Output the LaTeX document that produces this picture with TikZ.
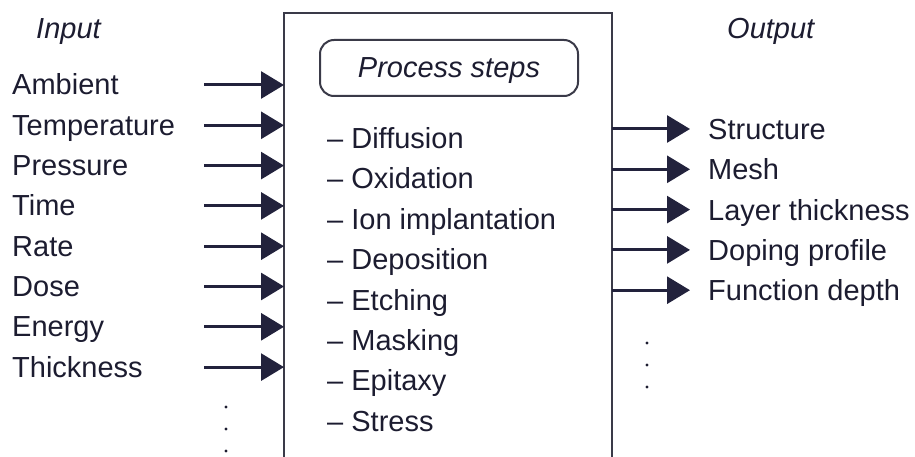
\documentclass[tikz,border=0pt]{standalone}
\usepackage{fontspec}
\setmainfont{Liberation Sans}
\usetikzlibrary{arrows.meta}
\definecolor{ink}{HTML}{1C1C30}
\definecolor{arr}{HTML}{22223C}
\definecolor{boxc}{HTML}{3A3A48}
\tikzset{
  lbl/.style={anchor=west,inner sep=0pt,text=ink,font=\fontsize{29}{34}\selectfont,text height=20.8pt,text depth=0pt},
  ttl/.style={inner sep=0pt,text=ink,font=\fontsize{29}{34}\selectfont\itshape,text height=20.8pt,text depth=0pt},
  conn/.style={draw=arr,line width=3pt,-{Triangle[length=23pt,width=27pt]}},
  frame/.style={draw=boxc,line width=2pt},
  dotmark/.style={fill=ink,circle,inner sep=0pt,minimum size=3.2pt}
}
\begin{document}
\begin{tikzpicture}[x=1pt,y=-1pt]
\useasboundingbox (0,0) rectangle (915,457);
% main box (open at bottom)
\draw[frame] (284,458) -- (284,13) -- (612,13) -- (612,458);
% titles
\node[ttl,anchor=west] (tin) at (36,28) {Input};
\node[ttl,anchor=west] (tout) at (727,28) {Output};
% process steps
\node[frame,rounded corners=14pt,minimum width=258pt,minimum height=56pt,inner sep=0pt] (ps) at (449,68) {};
\node[ttl] (pst) at (449,67) {Process steps};
\foreach \t [count=\i] in {Diffusion,Oxidation,Ion implantation,Deposition,Etching,Masking,Epitaxy,Stress}{
  \node[lbl] (p\i) at (327,{138+40.4*(\i-1)}) {– \t};
}
% inputs
\foreach \t [count=\i] in {Ambient,Temperature,Pressure,Time,Rate,Dose,Energy,Thickness}{
  \node[lbl] (in\i) at (12,{84.5+40.3*(\i-1)}) {\t};
  \coordinate (is\i) at (204,{85+40.3*(\i-1)});
  \coordinate (ie\i) at (284,{85+40.3*(\i-1)});
  \draw[conn] (is\i) -- (ie\i);
}
% outputs
\foreach \t [count=\i] in {Structure,Mesh,Layer thickness,Doping profile,Function depth}{
  \node[lbl] (out\i) at (708,{129+40.3*(\i-1)}) {\t};
  \coordinate (os\i) at (612,{129+40.3*(\i-1)});
  \coordinate (oe\i) at (690,{129+40.3*(\i-1)});
  \draw[conn] (os\i) -- (oe\i);
}
% dots
\foreach \y [count=\i] in {407,429,451}{ \node[dotmark] (ld\i) at (226,\y) {}; }
\foreach \y [count=\i] in {343,365,387}{ \node[dotmark] (rd\i) at (647,\y) {}; }
\end{tikzpicture}
\end{document}
